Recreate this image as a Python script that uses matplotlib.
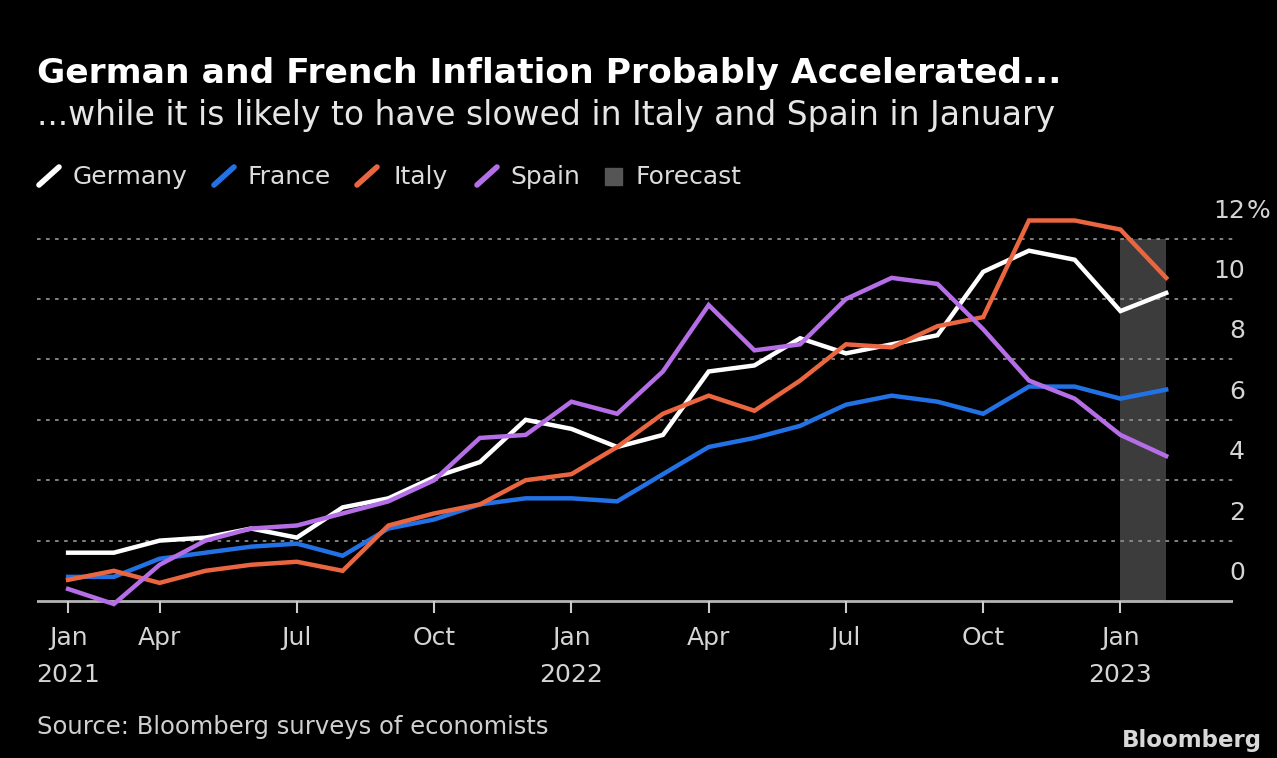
"""
Euro-area inflation chart: Germany, France, Italy, Spain (HICP, % y/y)
with the January 2023 forecast shaded.
"""

import matplotlib
matplotlib.use("Agg")
import matplotlib.pyplot as plt
import matplotlib.transforms as mtransforms
from matplotlib.lines import Line2D
from matplotlib.patches import Rectangle

# --- data (monthly, Jan 2021 .. Jan 2023, last point is the forecast) ---
germany = [1.6, 1.6, 2.0, 2.1, 2.4, 2.1, 3.1, 3.4, 4.1, 4.6, 6.0, 5.7,
           5.1, 5.5, 7.6, 7.8, 8.7, 8.2, 8.5, 8.8, 10.9, 11.6, 11.3, 9.6, 10.2]
france = [0.8, 0.8, 1.4, 1.6, 1.8, 1.9, 1.5, 2.4, 2.7, 3.2, 3.4, 3.4,
          3.3, 4.2, 5.1, 5.4, 5.8, 6.5, 6.8, 6.6, 6.2, 7.1, 7.1, 6.7, 7.0]
italy = [0.7, 1.0, 0.6, 1.0, 1.2, 1.3, 1.0, 2.5, 2.9, 3.2, 4.0, 4.2,
         5.1, 6.2, 6.8, 6.3, 7.3, 8.5, 8.4, 9.1, 9.4, 12.6, 12.6, 12.3, 10.7]
spain = [0.4, -0.1, 1.2, 2.0, 2.4, 2.5, 2.9, 3.3, 4.0, 5.4, 5.5, 6.6,
         6.2, 7.6, 9.8, 8.3, 8.5, 10.0, 10.7, 10.5, 9.0, 7.3, 6.7, 5.5, 4.8]

# each value is plotted at the end of its month (month 0 = Jan 1 2021)
months = list(range(1, len(germany) + 1))

tick_pos = [1, 3, 6, 9, 12, 15, 18, 21, 24]
tick_labels = ["Jan\n2021", "Apr", "Jul", "Oct", "Jan\n2022",
               "Apr", "Jul", "Oct", "Jan\n2023"]
y_grid = [2, 4, 6, 8, 10, 12]
y_labels = ["0", "2", "4", "6", "8", "10", "12"]

series = [("Germany", germany, "#ffffff"),
          ("France", france, "#2272e6"),
          ("Italy", italy, "#ea6640"),
          ("Spain", spain, "#b56ee6")]
forecast_color = "#3c3c3c"

W, H = 1277, 758


def fx(px):
    return px / W


def fy(py):
    return 1 - py / H


fig = plt.figure(figsize=(W / 100, H / 100), dpi=100, facecolor="black")

# axes box in pixels: x 37..1233, y 208..613 (0 line at 601)
ax = fig.add_axes([fx(37), fy(613.1), fx(1233) - fx(37), fy(208.4) - fy(613.1)])
ax.set_facecolor("black")
ax.set_xlim(0.32, 26.46)
ax.set_ylim(-0.4, 13)
for s in ax.spines.values():
    s.set_visible(False)

# forecast shading between last actual and forecast month
ax.add_patch(Rectangle((months[-2], 0), months[-1] - months[-2], y_grid[-1],
                       color=forecast_color, zorder=0.5, lw=0))

# dotted gridlines and the zero axis line
for v in y_grid:
    ax.axhline(v, color="#8c8c8c", lw=1.3, ls=(0, (2, 3)), zorder=1)
ax.axhline(0, color="#b4b4b4", lw=2, zorder=1)

for name, vals, col in series:
    ax.plot(months, vals, color=col, lw=3.2, zorder=3, solid_joinstyle="miter")

# x ticks
ax.set_xticks(tick_pos)
ax.set_xticklabels(tick_labels, linespacing=1.7)
ax.tick_params(axis="x", direction="in", length=8.5, width=1.5,
               color="#cccccc", labelsize=18, labelcolor="#d4d4d4", pad=9)
for lab in ax.get_xticklabels():
    lab.set_verticalalignment("top")
ax.set_yticks([])

# y labels sit above their gridline, right side
off = mtransforms.ScaledTranslation(0, 0.28, fig.dpi_scale_trans)
trans = mtransforms.blended_transform_factory(ax.transAxes, ax.transData) + off
xr = (1245 - 37) / (1233 - 37)
for i, lab in enumerate(y_labels):
    ax.text(xr, i * 2, lab, transform=trans, ha="right", va="center",
            fontsize=18, color="#d4d4d4")
ax.text(xr + 0.001, 12, "%", transform=trans, ha="left", va="center",
        fontsize=18, color="#d4d4d4")

# titles
fig.text(fx(37), fy(73), "German and French Inflation Probably Accelerated...",
         fontsize=24.8, fontweight="bold", color="white", va="center")
fig.text(fx(37), fy(115),
         "...while it is likely to have slowed in Italy and Spain in January",
         fontsize=23.8, color="#e6e6e6", va="center")

# legend
slash_x = [37, 212, 355, 475]
label_x = [73, 247, 393, 510]
for (name, vals, col), sx, tx in zip(series, slash_x, label_x):
    fig.add_artist(Line2D([fx(sx + 2), fx(sx + 22)], [fy(185), fy(167)],
                          color=col, lw=4, solid_capstyle="round"))
    fig.text(fx(tx), fy(177), name, fontsize=18, color="#dcdcdc",
             va="center")
fig.add_artist(Rectangle((fx(605), fy(185)), fx(17), 17 / H,
                         color="#555555", transform=fig.transFigure))
fig.text(fx(635), fy(177), "Forecast", fontsize=18, color="#dcdcdc",
         va="center")

# footer
fig.text(fx(37), fy(727), "Source: Bloomberg surveys of economists",
         fontsize=17.5, color="#cfcfcf", va="center")
fig.text(fx(1262), fy(740), "Bloomberg", fontsize=16.5, fontweight="bold",
         color="#d8d8d8", va="center", ha="right")

fig.savefig("out.png", dpi=100, facecolor="black")
